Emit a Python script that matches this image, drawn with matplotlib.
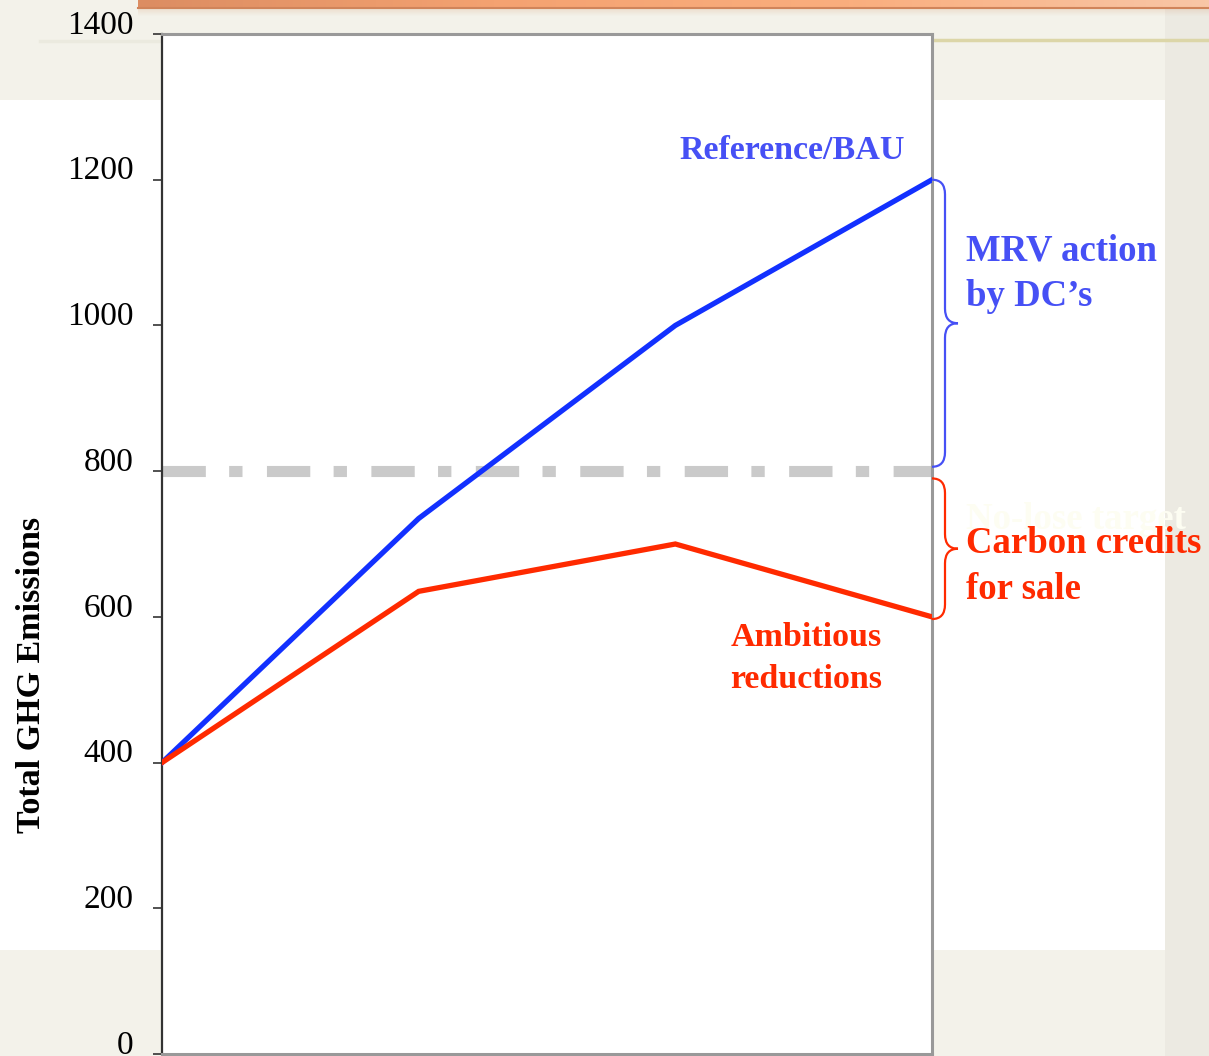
import matplotlib
matplotlib.use("Agg")
import matplotlib.pyplot as plt
from matplotlib.patches import Rectangle, PathPatch
from matplotlib.path import Path
from matplotlib.colors import LinearSegmentedColormap
from matplotlib.transforms import ScaledTranslation
import numpy as np

# ---- data ----
periods = [0, 1, 2, 3]
reference_bau = [400, 735, 1000, 1200]
ambitious = [400, 635, 700, 600]
no_lose_target = 800
y_ticks = [0, 200, 400, 600, 800, 1000, 1200, 1400]
y_label = "Total GHG Emissions"

SERIF = ["Liberation Serif", "DejaVu Serif"]
BLUE_LINE = "#1230ff"
BLUE_TEXT = "#4650f5"
RED = "#ff2a00"

W, H = 1209, 1056
fig = plt.figure(figsize=(W / 100, H / 100), dpi=100)
fig.patch.set_facecolor("#f3f2ea")

# ---- slide backdrop (pixel coordinates) ----
bg = fig.add_axes([0, 0, 1, 1], zorder=-5)
bg.set_xlim(0, W)
bg.set_ylim(H, 0)
bg.axis("off")
bg.add_patch(Rectangle((1165, 0), W - 1165, H, color="#eceae2", lw=0))
bg.add_patch(Rectangle((0, 100), 1165, 850, color="white", lw=0))
# orange title bar with a soft shadow
for i, a in enumerate(np.linspace(0.25, 0.02, 8)):
    bg.add_patch(Rectangle((138, 8 + i), W - 138, 1, color="#d9a27a", alpha=a, lw=0))
grad = np.linspace(0, 1, 256)
bar = np.vstack([grad, grad])
cmap = LinearSegmentedColormap.from_list("bar", ["#dc8d62", "#f4a271", "#faae7e", "#f8c6a6"])
bg.imshow(bar, cmap=cmap, extent=(138, W, 7, 0), aspect="auto", zorder=1)
bg.plot([138, W], [7.5, 7.5], color="#d0845a", lw=1.5, zorder=2)
bg.plot([932, W], [40, 40], color="#dcd6a8", lw=2.5)
bg.plot([40, 160], [41, 41], color="#ebeadf", lw=2.5)

# ---- chart ----
ax = fig.add_axes([162 / W, 2 / H, (932 - 162) / W, (1054 - 34) / H])
ax.set_facecolor("white")
ax.set_xlim(periods[0], periods[-1])
ax.set_ylim(y_ticks[0], y_ticks[-1])

ax.plot(periods, [no_lose_target] * len(periods), color="#cacaca", lw=8,
        linestyle=(0, (3.9, 2.1, 1.2, 2.2)), solid_capstyle="butt",
        dash_capstyle="butt", zorder=2)
ax.plot(periods, reference_bau, color=BLUE_LINE, lw=3.8, zorder=3,
        solid_joinstyle="miter")
ax.plot(periods, ambitious, color=RED, lw=3.8, zorder=3,
        solid_joinstyle="miter")

ax.set_xticks([])
ax.set_yticks(y_ticks)
ax.set_yticklabels([str(v) for v in y_ticks], fontfamily=SERIF, fontsize=24)
ax.tick_params(axis="y", direction="out", length=6.5, width=1.2,
               color="#333333", pad=14)
# tick labels sit slightly above their tick marks
lift = ScaledTranslation(0, 12 / 100, fig.dpi_scale_trans)
for lab in ax.get_yticklabels():
    lab.set_transform(lab.get_transform() + lift)
ax.spines["left"].set_color("#333333")
ax.spines["left"].set_linewidth(1.6)
for s in ("top", "right", "bottom"):
    ax.spines[s].set_color("#999999")
    ax.spines[s].set_linewidth(2.2)
ax.set_ylabel(y_label, fontfamily=SERIF, fontweight="bold", fontsize=24.5,
              labelpad=0)
ax.yaxis.set_label_coords(-115 / 770, 0.372)


def brace(axis, x0, y_top, y_bot, color):
    """Draw a right-pointing curly brace spanning y_bot..y_top at x0."""
    dx1 = 13 / 256.67
    dx2 = 26 / 256.67
    r = 20
    x1, xt = x0 + dx1, x0 + dx2
    mid = (y_top + y_bot) / 2
    verts = [
        (x0, y_top), (x1, y_top), (x1, y_top - r),
        (x1, mid + r), (x1, mid), (xt, mid),
        (x1, mid), (x1, mid - r),
        (x1, y_bot + r), (x1, y_bot), (x0, y_bot),
    ]
    codes = [Path.MOVETO, Path.CURVE3, Path.CURVE3,
             Path.LINETO, Path.CURVE3, Path.CURVE3,
             Path.CURVE3, Path.CURVE3,
             Path.LINETO, Path.CURVE3, Path.CURVE3]
    axis.add_patch(PathPatch(Path(verts, codes), fill=False, ec=color,
                             lw=1.6, clip_on=False, zorder=4))


brace(ax, periods[-1], reference_bau[-1], 806, BLUE_TEXT)
brace(ax, periods[-1], 790, ambitious[-1] - 3, RED)

txt = dict(fontfamily=SERIF, fontweight="bold", clip_on=False)
ax.text(2.455, 1240, "Reference/BAU", color=BLUE_TEXT, fontsize=24.5,
        ha="center", va="center", **txt)
ax.text(3.132, 733, "No-lose target", color="#fdfdf2", fontsize=26.5,
        ha="left", va="center", **txt)
ax.text(3.132, 1071, "MRV action\nby DC\u2019s", color=BLUE_TEXT, fontsize=26.5,
        ha="left", va="center", linespacing=1.4, **txt)
ax.text(3.132, 669, "Carbon credits\nfor sale", color=RED, fontsize=26.5,
        ha="left", va="center", linespacing=1.4, **txt)
ax.text(2.509, 543, "Ambitious\nreductions", color=RED, fontsize=24.5,
        ha="center", va="center", linespacing=1.45, **txt)

fig.savefig("out.png", dpi=100, facecolor=fig.get_facecolor())
